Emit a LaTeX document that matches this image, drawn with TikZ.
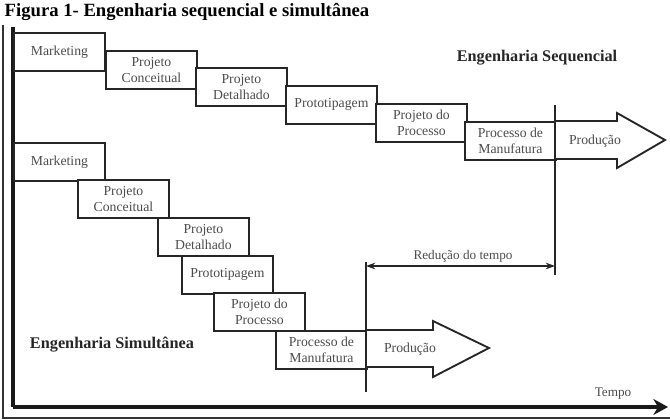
\documentclass[tikz,border=0pt]{standalone}
\usepackage{fontspec}
\setmainfont{Liberation Serif}
\usetikzlibrary{arrows.meta,positioning}

\begin{document}
\begin{tikzpicture}[
  x=0.75pt, y=-0.75pt,
  font=\fontsize{10.3}{11.8}\selectfont,
  etapa/.style={rectangle, draw=black!85, line width=1.4pt, fill=white,
                minimum width=68.25pt, minimum height=28.5pt,
                align=center, inner sep=1pt, anchor=north west,
                text=black!70},
  seta/.style={draw=black!85, line width=1.4pt, fill=white},
  marco/.style={black!85, line width=1pt},
  titulo/.style={font=\fontsize{12.2}{14}\selectfont\bfseries, text=black!85},
  rotulo/.style={font=\fontsize{9.9}{11}\selectfont, text=black!70},
  eixo/.style={line width=3pt, black!90},
]
\useasboundingbox (0,0) rectangle (670,420);

\node[anchor=base west, font=\fontsize{14}{16}\selectfont\bfseries]
  (fig) at (0,17) {Figura 1- Engenharia sequencial e simultânea};

% moldura e eixo do tempo
\coordinate (mtopo) at (3,25);
\coordinate (mcanto) at (3,418);
\coordinate (mfim) at (670,418);
\draw[line width=1.1pt, black!80] (mtopo) -- (mcanto) -- (mfim);

\coordinate (etopo) at (13,27);
\coordinate (origem) at (13,407);
\coordinate (efim) at (668,407);
\draw[eixo] (etopo) -- (origem);
\draw[eixo, -{Stealth[length=11pt,width=12pt]}] (origem) -- (efim);
\node[rotulo] (tempo) at (613,394) {Tempo};

% engenharia sequencial
\node[etapa] (mktseq) at (13,32)  {Marketing};
\node[etapa] (conseq) at (105,50) {Projeto\\Conceitual};
\node[etapa] (detseq) at (195,67) {Projeto\\Detalhado};
\node[etapa] (proseq) at (285,85) {Prototipagem};
\node[etapa] (prcseq) at (375,103) {Projeto do\\Processo};
\node[etapa] (manseq) at (464,121) {Processo de\\Manufatura};
\draw[seta] (555,121) -- (617,121) -- (617,113) -- (665,140)
  -- (617,168) -- (617,159) -- (555,159) -- cycle;
\node[text=black!70] (prodseq) at (595,141) {Produção};
\node[titulo] (lblseq) at (537,58) {Engenharia Sequencial};

% engenharia simultanea
\node[etapa] (mktsim) at (13,142)  {Marketing};
\node[etapa] (consim) at (77,179)  {Projeto\\Conceitual};
\node[etapa] (detsim) at (157,217) {Projeto\\Detalhado};
\node[etapa] (prosim) at (181,255) {Prototipagem};
\node[etapa] (prcsim) at (213,292) {Projeto do\\Processo};
\node[etapa] (mansim) at (275,330) {Processo de\\Manufatura};
\draw[seta] (366,330) -- (433,330) -- (433,321) -- (489,348)
  -- (433,377) -- (433,367) -- (366,367) -- cycle;
\node[text=black!70] (prodsim) at (410,349) {Produção};
\node[titulo] (lblsim) at (112,345) {Engenharia Simultânea};

% reducao do tempo
\coordinate (fseqa) at (555,105);
\coordinate (fseqb) at (555,275);
\coordinate (fsima) at (366,262);
\coordinate (fsimb) at (366,392);
\draw[marco] (fseqa) -- (fseqb);
\draw[marco] (fsima) -- (fsimb);
\coordinate (reda) at (366,266);
\coordinate (redb) at (555,266);
\draw[marco, {Stealth[length=7pt,width=5pt]}-{Stealth[length=7pt,width=5pt]}]
  (reda) -- (redb);
\node[rotulo] (red) at (463,256) {Redução do tempo};

\end{tikzpicture}
\end{document}
